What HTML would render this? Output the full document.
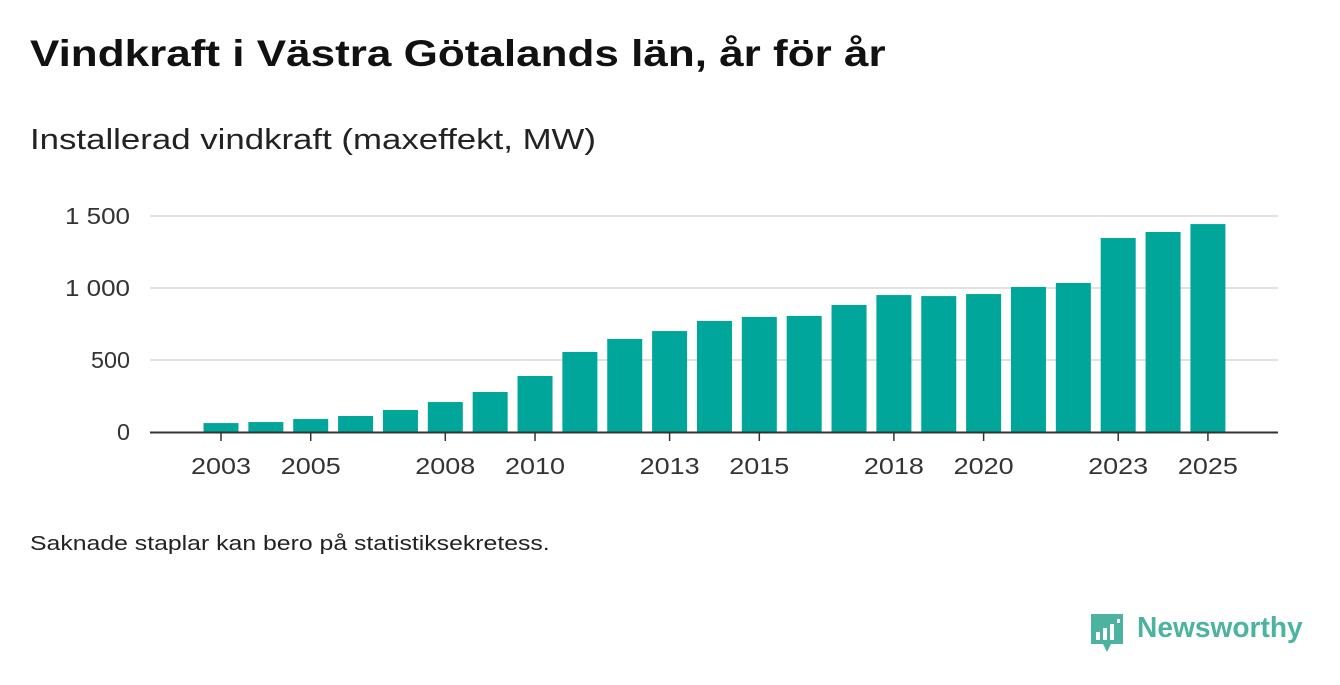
<!DOCTYPE html>
<html><head><meta charset="utf-8"><style>
body{margin:0;width:1340px;height:685px;background:#fff;font-family:"Liberation Sans",sans-serif;color:#1a1a1a;position:relative;overflow:hidden}
.t{position:absolute;white-space:nowrap;transform-origin:0 0}
</style></head><body>
<div class="t" style="left:30px;top:33px;font-size:37px;font-weight:bold;color:#111;transform:scaleX(1.19)">Vindkraft i Västra Götalands län, år för år</div>
<div class="t" style="left:30px;top:124px;font-size:29px;color:#222;transform:scaleX(1.2)">Installerad vindkraft (maxeffekt, MW)</div>
<svg id="chart" width="1340" height="685" style="position:absolute;left:0;top:0"></svg>
<div class="t" style="left:30px;top:533px;font-size:20px;color:#222;transform:scaleX(1.24)">Saknade staplar kan bero på statistiksekretess.</div>
<div style="position:absolute;left:1089px;top:612px;height:40px">
<svg width="36" height="42" style="position:absolute;left:0;top:0"><path d="M2 2h32v30h-12l-4 8l-4-8h-12z" fill="#4bb3a0"/><rect x="7" y="20" width="4" height="8" fill="#fff"/><rect x="14" y="16" width="4" height="12" fill="#fff"/><rect x="21" y="12" width="4" height="16" fill="#fff"/><rect x="28" y="7" width="3" height="4" fill="#fff"/></svg>
<span class="t" style="left:48px;top:0;font-size:29px;font-weight:bold;color:#4bb3a0;transform:scaleX(0.97)">Newsworthy</span></div>
<script>
const years=[2003,2004,2005,2006,2007,2008,2009,2010,2011,2012,2013,2014,2015,2016,2017,2018,2019,2020,2021,2022,2023,2024,2025];
const values=[62,69,90,111,153,208,278,389,556,646,701,771,799,806,882,951,944,958,1007,1035,1347,1389,1444];
const yTicks=[0,500,1000,1500];
const yTickLabels=["0","500","1 000","1 500"];
const xLabelYears=[2003,2005,2008,2010,2013,2015,2018,2020,2023,2025];
const svg=document.getElementById('chart');const NS='http://www.w3.org/2000/svg';
const y=v=>432-v*0.144;
const x=yr=>221+(yr-2003)*44.86;
function mk(t,a){const e=document.createElementNS(NS,t);for(const k in a)e.setAttribute(k,a[k]);svg.appendChild(e);return e;}
yTicks.forEach((v,i)=>{
 if(v>0){const g=mk('line',{x1:150,x2:1278,y1:y(v),y2:y(v),stroke:'#d8d8d8','stroke-width':1.5});
 
 }
 const t=mk('text',{x:130,y:y(v)+8,'text-anchor':'end','font-size':23,fill:'#333','font-family':'Liberation Sans, sans-serif','textLength':(yTickLabels[i].length*13),'lengthAdjust':'spacingAndGlyphs'});t.textContent=yTickLabels[i];
 
 
});
years.forEach((yr,i)=>{const b=mk('rect',{x:x(yr)-17.5,y:y(values[i]),width:35,height:432-y(values[i]),fill:'#00a69a'});
 
 });
const ax=mk('line',{x1:150,x2:1278,y1:432.5,y2:432.5,stroke:'#333','stroke-width':2});


xLabelYears.forEach(yr=>{mk('line',{x1:x(yr),x2:x(yr),y1:433,y2:441,stroke:'#333','stroke-width':1.5});
 const t=mk('text',{x:x(yr),y:474,'text-anchor':'middle','font-size':23,fill:'#333','font-family':'Liberation Sans, sans-serif','textLength':60,'lengthAdjust':'spacingAndGlyphs'});t.textContent=yr;
 
 });
</script>
</body></html>
